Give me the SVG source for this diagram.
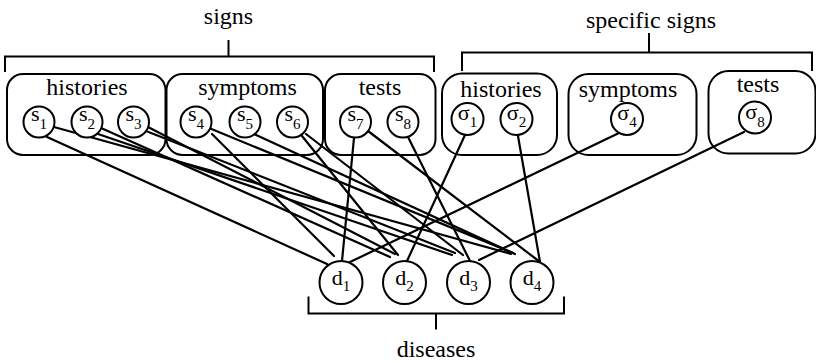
<svg xmlns="http://www.w3.org/2000/svg" width="816" height="363" viewBox="0 0 816 363" font-family="'Liberation Serif', serif">
  <style>
    text { font-family: "Liberation Serif", "Times New Roman", serif; fill: #000; text-anchor: middle; }
    .lbl { font-size: 24px; }
    .nl { font-size: 22px; }
    .sub { font-size: 15px; }
    .box { fill: none; stroke: #000; stroke-width: 2; }
    .brk { fill: none; stroke: #000; stroke-width: 2; }
    .nd { fill: #fff; stroke: #000; stroke-width: 2; }
    #connectors line { stroke: #000; stroke-width: 2.2; stroke-linecap: round; }
  </style>
  <rect width="816" height="363" fill="#fff"/>

  <!-- group brackets and titles -->
  <g id="bracket-signs">
    <path class="brk" d="M5,72 V56.5 H434 V72 M228.5,56.5 V40"/>
    <text class="lbl" x="228.5" y="24">signs</text>
  </g>
  <g id="bracket-specific">
    <path class="brk" d="M462,71 V52.5 H812 V71 M649,52.5 V33"/>
    <text class="lbl" x="651" y="28">specific signs</text>
  </g>
  <g id="bracket-diseases">
    <path class="brk" d="M308.5,296.5 V313.5 H564 V296.5 M436,313.5 V329.5"/>
    <text class="lbl" x="436" y="357">diseases</text>
  </g>

  <!-- category boxes -->
  <g id="box-histories">
    <rect class="box" x="7" y="74" width="158.5" height="81" rx="16"/>
    <text class="lbl" x="87" y="95">histories</text>
  </g>
  <g id="box-symptoms">
    <rect class="box" x="166.5" y="74" width="156.5" height="81" rx="16"/>
    <text class="lbl" x="247.5" y="95">symptoms</text>
  </g>
  <g id="box-tests">
    <rect class="box" x="325" y="74" width="110.5" height="81" rx="16"/>
    <text class="lbl" x="380" y="95">tests</text>
  </g>
  <g id="box-spec-histories">
    <rect class="box" x="442" y="73.5" width="115" height="81.5" rx="20"/>
    <text class="lbl" x="501" y="97">histories</text>
  </g>
  <g id="box-spec-symptoms">
    <rect class="box" x="568.5" y="74" width="128" height="81" rx="20"/>
    <text class="lbl" x="628" y="97">symptoms</text>
  </g>
  <g id="box-spec-tests">
    <rect class="box" x="708.5" y="71" width="107" height="82.5" rx="20"/>
    <text class="lbl" x="758" y="92">tests</text>
  </g>

  <!-- sign to disease links -->
  <g id="connectors">
    <line x1="47" y1="137" x2="327" y2="264"/>
    <line x1="54" y1="127" x2="511" y2="254"/>
    <line x1="101" y1="128" x2="390" y2="257"/>
    <line x1="98" y1="134" x2="452" y2="255"/>
    <line x1="146" y1="126" x2="395" y2="254"/>
    <line x1="146" y1="131" x2="455" y2="253"/>
    <line x1="212" y1="134" x2="334" y2="256"/>
    <line x1="209" y1="128" x2="513" y2="253"/>
    <line x1="254" y1="134" x2="515" y2="254"/>
    <line x1="302" y1="136" x2="398" y2="255"/>
    <line x1="306" y1="134" x2="463" y2="255"/>
    <line x1="354" y1="138" x2="342" y2="261"/>
    <line x1="368" y1="131" x2="540" y2="262"/>
    <line x1="408" y1="137" x2="470" y2="261"/>
    <line x1="465" y1="135" x2="407" y2="261"/>
    <line x1="518" y1="136" x2="540" y2="262"/>
    <line x1="619" y1="133" x2="348" y2="263"/>
    <line x1="744" y1="132" x2="479" y2="260"/>
  </g>

  <!-- sign nodes -->
  <g id="s1"><circle class="nd" cx="39" cy="122" r="15.5"/><text class="nl" x="39" y="121">s<tspan class="sub" dy="8">1</tspan></text></g>
  <g id="s2"><circle class="nd" cx="87" cy="122" r="15.5"/><text class="nl" x="87" y="121">s<tspan class="sub" dy="8">2</tspan></text></g>
  <g id="s3"><circle class="nd" cx="133.5" cy="122" r="15.5"/><text class="nl" x="133.5" y="121">s<tspan class="sub" dy="8">3</tspan></text></g>
  <g id="s4"><circle class="nd" cx="196" cy="122" r="15.5"/><text class="nl" x="196" y="121">s<tspan class="sub" dy="8">4</tspan></text></g>
  <g id="s5"><circle class="nd" cx="245" cy="122" r="15.5"/><text class="nl" x="245" y="121">s<tspan class="sub" dy="8">5</tspan></text></g>
  <g id="s6"><circle class="nd" cx="292.5" cy="122" r="15.5"/><text class="nl" x="292.5" y="121">s<tspan class="sub" dy="8">6</tspan></text></g>
  <g id="s7"><circle class="nd" cx="355.5" cy="122" r="15.5"/><text class="nl" x="355.5" y="121">s<tspan class="sub" dy="8">7</tspan></text></g>
  <g id="s8"><circle class="nd" cx="403" cy="122" r="15.5"/><text class="nl" x="403" y="121">s<tspan class="sub" dy="8">8</tspan></text></g>

  <!-- specific sign nodes -->
  <g id="sigma1"><circle class="nd" cx="467.5" cy="119" r="16"/><text class="nl" x="467.5" y="120">σ<tspan class="sub" dy="7">1</tspan></text></g>
  <g id="sigma2"><circle class="nd" cx="516.5" cy="119" r="16"/><text class="nl" x="516.5" y="120">σ<tspan class="sub" dy="7">2</tspan></text></g>
  <g id="sigma4"><circle class="nd" cx="627" cy="119" r="16"/><text class="nl" x="627" y="120">σ<tspan class="sub" dy="7">4</tspan></text></g>
  <g id="sigma8"><circle class="nd" cx="755" cy="117.5" r="16"/><text class="nl" x="755" y="119">σ<tspan class="sub" dy="8">8</tspan></text></g>

  <!-- disease nodes -->
  <g id="d1"><circle class="nd" cx="341" cy="282.5" r="21.5"/><text class="nl" x="341" y="285">d<tspan class="sub" dy="6">1</tspan></text></g>
  <g id="d2"><circle class="nd" cx="404.5" cy="282.5" r="21.5"/><text class="nl" x="404.5" y="285">d<tspan class="sub" dy="6">2</tspan></text></g>
  <g id="d3"><circle class="nd" cx="468.5" cy="282.5" r="21.5"/><text class="nl" x="468.5" y="285">d<tspan class="sub" dy="6">3</tspan></text></g>
  <g id="d4"><circle class="nd" cx="532" cy="282.5" r="21.5"/><text class="nl" x="532" y="285">d<tspan class="sub" dy="6">4</tspan></text></g>
</svg>
